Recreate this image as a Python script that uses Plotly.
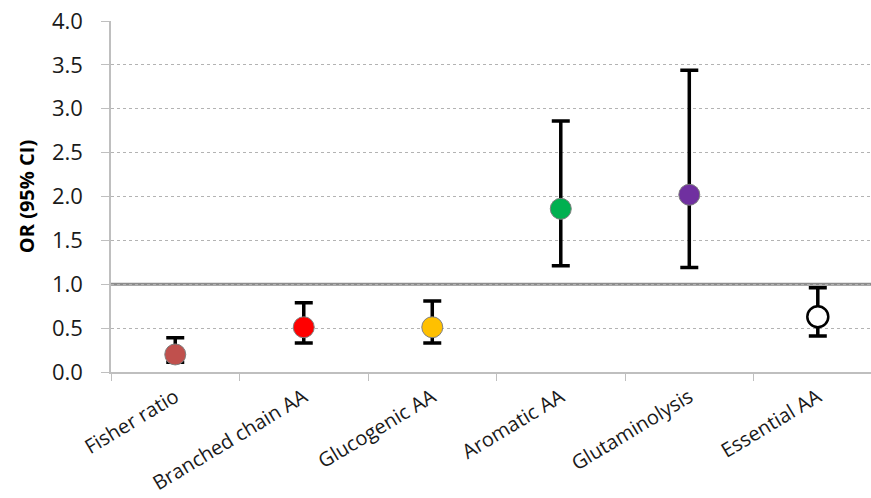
import plotly.graph_objects as go

# Odds ratios with 95% confidence intervals for amino-acid indices
categories = ["Fisher ratio", "Branched chain AA", "Glucogenic AA",
              "Aromatic AA", "Glutaminolysis", "Essential AA"]
odds_ratio = [0.20, 0.51, 0.51, 1.86, 2.02, 0.63]
ci_lower = [0.11, 0.33, 0.33, 1.21, 1.19, 0.41]
ci_upper = [0.39, 0.79, 0.81, 2.86, 3.44, 0.96]
reference_or = 1.0

fill_colors = ["#C0504D", "#FF0000", "#FFC000", "#00B050", "#7030A0", "#FFFFFF"]
edge_colors = ["#7F7F7F", "#7F7F7F", "#7F7F7F", "#7F7F7F", "#7F7F7F", "#000000"]
edge_widths = [1, 1, 1, 1, 1, 2.5]

err_plus = [u - m for u, m in zip(ci_upper, odds_ratio)]
err_minus = [m - l for m, l in zip(odds_ratio, ci_lower)]

fig = go.Figure()
fig.add_trace(go.Scatter(
    x=categories,
    y=odds_ratio,
    mode="markers",
    marker=dict(size=21, color=fill_colors,
                line=dict(color=edge_colors, width=edge_widths)),
    error_y=dict(type="data", symmetric=False, array=err_plus,
                 arrayminus=err_minus, color="#000000", thickness=3.5, width=9),
    showlegend=False,
    cliponaxis=False,
))

fig.add_shape(type="line", xref="paper", x0=0, x1=1, yref="y",
              y0=reference_or, y1=reference_or,
              line=dict(color="#8C8C8C", width=3), layer="below")

fig.update_layout(
    width=871, height=498,
    margin=dict(l=111, r=0, t=21, b=126),
    paper_bgcolor="white", plot_bgcolor="white",
    font=dict(family="Open Sans, sans-serif", color="#1A1A1A"),
    xaxis=dict(
        type="category",
        range=[-0.5, 5.414],
        tickangle=-31,
        tickfont=dict(size=20, color="#1A1A1A"),
        showline=True, linecolor="#BFBFBF", linewidth=1.5,
        ticks="outside", ticklen=7, tickcolor="#BFBFBF",
        tickson="boundaries",
        showgrid=False,
        ticklabelstandoff=4,
    ),
    yaxis=dict(
        range=[0, 4.0],
        dtick=0.5,
        tickformat=".1f",
        tickfont=dict(size=22, color="#1A1A1A"),
        showline=True, linecolor="#BFBFBF", linewidth=1.5,
        ticks="outside", ticklen=8, tickcolor="#BFBFBF",
        showgrid=True, gridcolor="#B3B3B3", gridwidth=1, griddash="dot",
        zeroline=False,
        ticklabelstandoff=14,
        title=dict(text="<b>OR (95% CI)</b>", font=dict(size=20, color="#000000"),
                   standoff=12),
    ),
)

fig.write_html("out.html")
